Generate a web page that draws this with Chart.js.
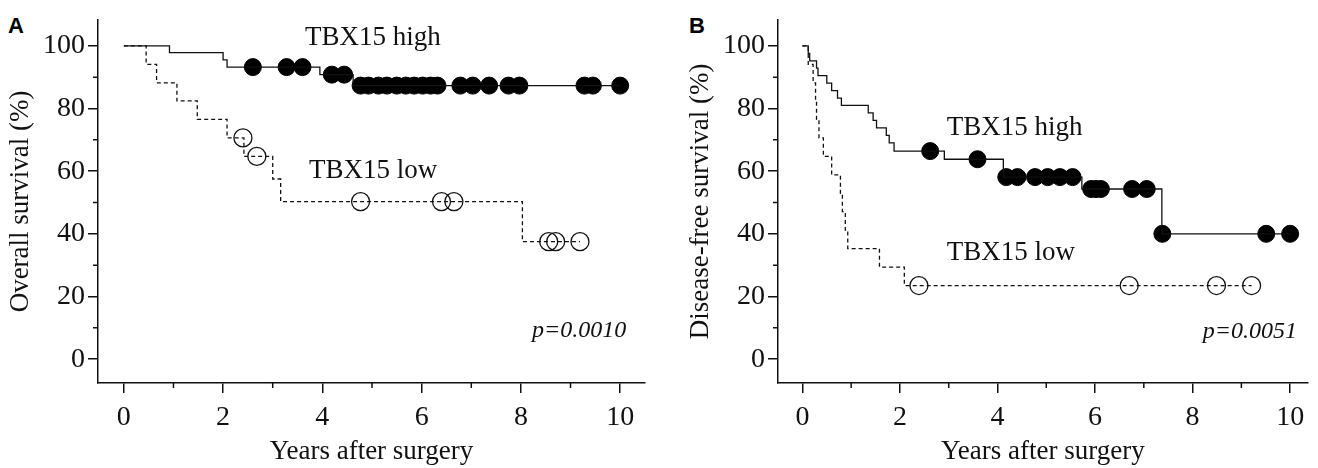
<!DOCTYPE html>
<html>
<head>
<meta charset="utf-8">
<script src="https://cdn.jsdelivr.net/npm/chart.js@4"></script>
<style>
  html, body { margin: 0; padding: 0; background: #fff; }
  body { width: 1318px; height: 468px; position: relative; overflow: hidden; }
  .panel { position: absolute; top: 0; height: 468px; }
  #panelA { left: 0; width: 660px; }
  #panelB { left: 680px; width: 638px; }
  .tag { position: absolute; top: 13px; font: bold 22px "Liberation Sans", Arial, sans-serif; color: #000; }
</style>
</head>
<body>
<div class="tag" style="left:8px">A</div>
<div class="tag" style="left:689px">B</div>
<div class="panel" id="panelA"><canvas id="chartA"></canvas></div>
<div class="panel" id="panelB"><canvas id="chartB"></canvas></div>
<script>
// tick labels
const xTicks = [0, 2, 4, 6, 8, 10];
const yTicks = [0, 20, 40, 60, 80, 100];
const xMinor = [1, 3, 5, 7, 9];
const yMinor = [10, 30, 50, 70, 90];

// A: overall survival (step times in years, survival %)
const aHighTimes = [0, 0.92, 2.00, 2.08, 3.95, 4.62];
const aHighSurv = [100, 97.8, 95.5, 93.2, 90.8, 87.3];
const aHighCensor = [2.60, 3.28, 3.60, 4.19, 4.44, 4.77, 4.93, 5.13, 5.30, 5.50, 5.68, 5.85, 6.02, 6.18, 6.32,
                     6.78, 7.03, 7.36, 7.75, 7.97, 9.28, 9.45, 10.0];
const aLowTimes = [0, 0.45, 0.66, 1.07, 1.48, 2.08, 2.42, 3.00, 3.16, 8.03];
const aLowSurv = [100, 94.1, 88.2, 82.4, 76.5, 70.6, 64.7, 57.5, 50.3, 37.5];
const aLowCensor = [2.40, 2.68, 4.77, 6.40, 6.65, 8.56, 8.70, 9.19];

// B: disease-free survival
const bHighTimes = [0, 0.12, 0.15, 0.29, 0.32, 0.50, 0.60, 0.72, 0.80, 1.35, 1.45, 1.52, 1.72, 1.78, 1.88, 2.91, 4.12, 5.73, 7.37];
const bHighSurv = [100, 97.6, 95.2, 92.9, 90.5, 88.1, 85.7, 83.3, 81.0, 78.6, 76.2, 73.8, 71.4, 69.0, 66.4, 63.8, 58.1, 54.3, 40.0];
const bHighCensor = [2.62, 3.59, 4.18, 4.41, 4.77, 5.03, 5.28, 5.54, 5.92, 6.02, 6.12, 6.76, 7.06, 7.38, 9.51, 10.0];
const bLowTimes = [0, 0.12, 0.22, 0.27, 0.29, 0.34, 0.43, 0.60, 0.78, 0.82, 0.88, 0.93, 1.58, 2.09];
const bLowSurv = [100, 94.1, 88.2, 82.4, 76.5, 70.6, 64.7, 58.8, 52.9, 47.1, 41.2, 35.3, 29.4, 23.5];
const bLowCensor = [2.39, 6.70, 8.49, 9.21];

const serif = "'Liberation Serif', 'Times New Roman', serif";
const ink = '#111';

function survAt(times, surv, t) {
    let v = surv[0];
    for (let i = 0; i < times.length; i++) if (times[i] <= t) v = surv[i];
    return v;
}

function stepData(times, surv, censor) {
    const pts = times.map((t, i) => ({x: t, y: surv[i]}));
    pts.push({x: censor[censor.length - 1], y: surv[surv.length - 1]});
    return pts;
}

function censorData(times, surv, censor) {
    return censor.map(t => ({x: t, y: survAt(times, surv, t)}));
}

// text notes and minor ticks, placed through the chart's scales
const extras = {
    id: 'extras',
    afterDraw(chart, args, opts) {
        const {ctx, scales: {x, y}, chartArea} = chart;
        ctx.save();
        ctx.strokeStyle = ink;
        ctx.lineWidth = 1.5;
        ctx.beginPath();
        yMinor.forEach(v => {
            const py = y.getPixelForValue(v);
            ctx.moveTo(chartArea.left - 5, py);
            ctx.lineTo(chartArea.left, py);
        });
        xMinor.forEach(v => {
            const px = x.getPixelForValue(v);
            ctx.moveTo(px, chartArea.bottom);
            ctx.lineTo(px, chartArea.bottom + 5);
        });
        ctx.stroke();
        ctx.fillStyle = ink;
        ctx.textBaseline = 'alphabetic';
        opts.notes.forEach(n => {
            ctx.font = n.font;
            ctx.textAlign = n.align;
            ctx.fillText(n.text, x.getPixelForValue(n.x), y.getPixelForValue(n.y));
        });
        ctx.restore();
    }
};

function makeChart(id, p) {
    const ctx = document.getElementById(id).getContext('2d');
    return new Chart(ctx, {
        type: 'scatter',
        data: {
            datasets: [
                {
                    data: stepData(p.highTimes, p.highSurv, p.highCensor),
                    showLine: true, stepped: 'before',
                    borderColor: ink, borderWidth: 1.3, pointRadius: 0
                },
                {
                    data: stepData(p.lowTimes, p.lowSurv, p.lowCensor),
                    showLine: true, stepped: 'before',
                    borderColor: ink, borderWidth: 1.3, borderDash: [4, 3], pointRadius: 0
                },
                {
                    data: censorData(p.highTimes, p.highSurv, p.highCensor),
                    showLine: false, pointRadius: 8.5, pointBackgroundColor: '#000',
                    pointBorderColor: '#000', pointBorderWidth: 1, clip: false
                },
                {
                    data: censorData(p.lowTimes, p.lowSurv, p.lowCensor),
                    showLine: false, pointRadius: 9, pointBackgroundColor: 'rgba(255,255,255,0)',
                    pointBorderColor: ink, pointBorderWidth: 1.3, clip: false
                }
            ]
        },
        options: {
            responsive: true,
            maintainAspectRatio: false,
            animation: false,
            layout: {padding: {top: 18, right: p.padRight, bottom: 0, left: 0}},
            plugins: {
                legend: {display: false},
                tooltip: {enabled: false},
                extras: {notes: p.notes}
            },
            scales: {
                x: {
                    type: 'linear',
                    min: p.xMin, max: p.xMax,
                    afterFit: s => { s.height = 85; },
                    afterBuildTicks: s => { s.ticks = xTicks.map(v => ({value: v})); },
                    border: {display: true, color: ink, width: 1.5},
                    grid: {drawOnChartArea: false, drawTicks: true, tickLength: 10, color: ink, lineWidth: 1.5},
                    ticks: {color: ink, padding: 8, maxRotation: 0, font: {family: serif, size: 28}},
                    title: {display: true, text: 'Years after surgery', color: ink,
                            padding: {top: 0, bottom: 0}, font: {family: serif, size: 27}}
                },
                y: {
                    min: -7.6, max: 108.3,
                    afterFit: s => { s.width = 98; },
                    afterBuildTicks: s => { s.ticks = yTicks.map(v => ({value: v})); },
                    border: {display: true, color: ink, width: 1.5},
                    grid: {drawOnChartArea: false, drawTicks: true, tickLength: 10, color: ink, lineWidth: 1.5},
                    ticks: {color: ink, padding: 3, font: {family: serif, size: 28}},
                    title: {display: true, text: p.yTitle, color: ink,
                            padding: {top: 5, bottom: 0}, font: {family: serif, size: 27}}
                }
            }
        },
        plugins: [extras]
    });
}

makeChart('chartA', {
    highTimes: aHighTimes, highSurv: aHighSurv, highCensor: aHighCensor,
    lowTimes: aLowTimes, lowSurv: aLowSurv, lowCensor: aLowCensor,
    xMin: -0.52, xMax: 10.5, padRight: 15,
    yTitle: 'Overall survival (%)',
    notes: [
        {text: 'TBX15 high', x: 3.65, y: 100.2, align: 'left', font: '27px ' + serif},
        {text: 'TBX15 low', x: 3.73, y: 57.9, align: 'left', font: '27px ' + serif},
        {text: 'p=0.0010', x: 10.12, y: 7.0, align: 'right', font: 'italic 24px ' + serif}
    ]
});

makeChart('chartB', {
    highTimes: bHighTimes, highSurv: bHighSurv, highCensor: bHighCensor,
    lowTimes: bLowTimes, lowSurv: bLowSurv, lowCensor: bLowCensor,
    xMin: -0.50, xMax: 10.36, padRight: 0,
    yTitle: 'Disease-free survival (%)',
    notes: [
        {text: 'TBX15 high', x: 2.96, y: 71.6, align: 'left', font: '27px ' + serif},
        {text: 'TBX15 low', x: 2.96, y: 31.7, align: 'left', font: '27px ' + serif},
        {text: 'p=0.0051', x: 10.14, y: 6.7, align: 'right', font: 'italic 24px ' + serif}
    ]
});
</script>
</body>
</html>
